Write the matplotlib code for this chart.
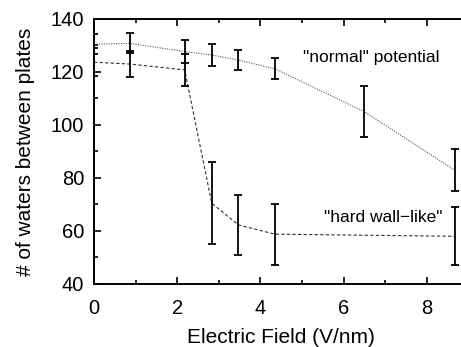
import matplotlib
matplotlib.use("Agg")
import matplotlib.pyplot as plt
from matplotlib.ticker import MultipleLocator

plt.rcParams['font.family'] = ['Liberation Sans', 'DejaVu Sans']

# "normal" potential
x_normal = [0.0, 0.86, 2.18, 2.83, 3.47, 4.35, 6.5, 8.67]
y_normal = [130.5, 130.8, 127.7, 126.4, 124.5, 121.2, 105.0, 83.0]
e_normal = [3.8, 3.8, 4.2, 4.2, 3.8, 4.0, 9.6, 8.0]

# "hard wall-like"
x_hard = [0.0, 0.86, 2.18, 2.83, 3.47, 4.35, 8.67]
y_hard = [123.7, 123.0, 120.8, 70.5, 62.3, 58.8, 58.0]
e_hard = [5.2, 5.0, 6.0, 15.5, 11.2, 11.5, 11.0]

fig = plt.figure(figsize=(4.61, 3.47), dpi=100)
ax = fig.add_axes([0.2039, 0.1816, 0.812, 0.7637])

ax.plot(x_normal, y_normal, linestyle=(0, (1, 1.2)), color='#555555', lw=0.8)
ax.plot(x_hard, y_hard, linestyle=(0, (3, 2)), color='#333333', lw=0.8)
ax.errorbar(x_normal, y_normal, yerr=e_normal, fmt='none', ecolor='black',
            elinewidth=1.3, capsize=3, capthick=1.3)
ax.errorbar(x_hard, y_hard, yerr=e_hard, fmt='none', ecolor='black',
            elinewidth=1.3, capsize=3, capthick=1.3)

ax.set_xlim(0, 9.0)
ax.set_ylim(40, 140)
ax.xaxis.set_major_locator(MultipleLocator(2))
ax.xaxis.set_minor_locator(MultipleLocator(1))
ax.yaxis.set_major_locator(MultipleLocator(20))
ax.yaxis.set_minor_locator(MultipleLocator(10))
ax.tick_params(which='both', direction='in', top=True, right=True,
               labelsize=14.5, width=1.2)
ax.tick_params(axis='x', pad=11)
ax.tick_params(axis='y', pad=7)
ax.tick_params(which='major', length=5)
ax.tick_params(which='minor', length=3)
for s in ax.spines.values():
    s.set_linewidth(1.4)

ax.set_xlabel('Electric Field (V/nm)', fontsize=15, labelpad=7)
ax.set_ylabel('# of waters between plates', fontsize=15, labelpad=11)

ax.text(6.67, 125.3, '"normal" potential', fontsize=12.5, ha='center', va='center')
ax.text(8.37, 64.9, '"hard wall\u2212like"', fontsize=12.5, ha='right', va='center')

fig.savefig('out.png', dpi=100)
